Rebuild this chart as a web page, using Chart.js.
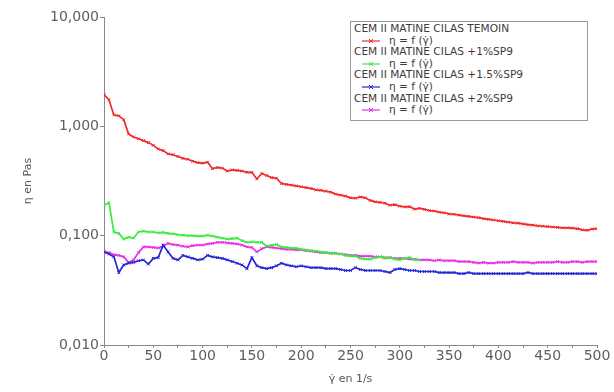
<!DOCTYPE html>
<html>
<head>
<meta charset="utf-8">
<script src="https://cdn.jsdelivr.net/npm/chart.js@4/dist/chart.umd.min.js"></script>
<style>
  body { margin: 0; background: #fff; }
  #wrap { position: relative; width: 614px; height: 392px; }
  #legend {
    position: absolute; left: 350px; top: 21px; width: 238px;
    border: 1px solid #9a9a9a; background: #fff; padding: 1px 0 4px 3px;
    font: 10.6px "DejaVu Sans", sans-serif; color: #3c3c3c; box-sizing: border-box;
  }
  #legend .name { height: 11.6px; line-height: 11.6px; white-space: nowrap; }
  #legend .sample { height: 11.6px; line-height: 11.6px; padding-left: 8px; white-space: nowrap; }
  #legend svg { vertical-align: middle; margin-right: 9px; }
</style>
</head>
<body>
<div id="wrap">
  <canvas id="viscoChart" width="614" height="392"></canvas>
  <div id="legend"></div>
</div>
<script>
// shear rate (1/s)
const shear = [
  0, 5, 10, 15, 20, 25, 30, 35, 40, 45, 50, 55, 60, 65, 70, 75, 80, 85, 90, 95,
  100, 105, 110, 115, 120, 125, 130, 135, 140, 145, 150, 155, 160, 165, 170, 175, 180, 185, 190, 195,
  200, 205, 210, 215, 220, 225, 230, 235, 240, 245, 250, 255, 260, 265, 270, 275, 280, 285, 290, 295,
  300, 305, 310, 315, 320, 325, 330, 335, 340, 345, 350, 355, 360, 365, 370, 375, 380, 385, 390, 395,
  400, 405, 410, 415, 420, 425, 430, 435, 440, 445, 450, 455, 460, 465, 470, 475, 480, 485, 490, 495,
  500
];

// viscosity (Pa.s) per mix
const etaTemoin = [
  1.95, 1.75, 1.27, 1.25, 1.15, 0.85, 0.80, 0.77, 0.74, 0.71, 0.67, 0.62, 0.60, 0.56, 0.55, 0.53, 0.51, 0.50, 0.48, 0.465,
  0.46, 0.47, 0.41, 0.42, 0.415, 0.39, 0.40, 0.395, 0.39, 0.38, 0.38, 0.33, 0.37, 0.355, 0.34, 0.335, 0.30, 0.295, 0.29, 0.285,
  0.28, 0.275, 0.27, 0.262, 0.26, 0.255, 0.25, 0.24, 0.235, 0.23, 0.222, 0.22, 0.226, 0.222, 0.21, 0.204, 0.202, 0.198, 0.19, 0.192,
  0.186, 0.183, 0.184, 0.175, 0.178, 0.174, 0.17, 0.168, 0.164, 0.162, 0.158, 0.157, 0.154, 0.152, 0.15, 0.148, 0.146, 0.143, 0.141, 0.139,
  0.137, 0.135, 0.133, 0.131, 0.13, 0.128, 0.126, 0.125, 0.123, 0.122, 0.121, 0.12, 0.119, 0.118, 0.118, 0.117, 0.116, 0.113, 0.112, 0.115,
  0.116
];
const eta1SP9 = [
  0.19, 0.20, 0.108, 0.105, 0.093, 0.097, 0.095, 0.108, 0.11, 0.108, 0.108, 0.106, 0.107, 0.105, 0.104, 0.102, 0.101, 0.10, 0.10, 0.099,
  0.099, 0.101, 0.099, 0.097, 0.095, 0.093, 0.094, 0.095, 0.09, 0.087, 0.088, 0.087, 0.087, 0.08, 0.082, 0.083, 0.079, 0.078, 0.077, 0.077,
  0.075, 0.074, 0.073, 0.072, 0.071, 0.07, 0.069, 0.069, 0.068, 0.066, 0.065, 0.065, 0.062, 0.061, 0.061, 0.063, 0.064, 0.062, 0.063, 0.061,
  0.06, 0.062, 0.063, 0.06, 0.06
];
const eta15SP9 = [
  0.071, 0.068, 0.064, 0.046, 0.054, 0.056, 0.057, 0.059, 0.060, 0.055, 0.062, 0.063, 0.082, 0.071, 0.062, 0.060, 0.066, 0.064, 0.062, 0.060,
  0.061, 0.066, 0.064, 0.063, 0.062, 0.060, 0.058, 0.056, 0.054, 0.05, 0.063, 0.053, 0.051, 0.050, 0.051, 0.053, 0.056, 0.054, 0.053, 0.052,
  0.053, 0.052, 0.051, 0.051, 0.051, 0.050, 0.050, 0.050, 0.049, 0.048, 0.048, 0.051, 0.049, 0.048, 0.048, 0.048, 0.048, 0.047, 0.046, 0.049,
  0.050, 0.049, 0.048, 0.048, 0.047, 0.047, 0.047, 0.047, 0.046, 0.046, 0.046, 0.046, 0.045, 0.045, 0.046, 0.045, 0.045, 0.045, 0.045, 0.045,
  0.045, 0.045, 0.045, 0.045, 0.045, 0.045, 0.046, 0.045, 0.045, 0.045, 0.045, 0.045, 0.045, 0.045, 0.045, 0.045, 0.045, 0.045, 0.045, 0.045,
  0.045
];
const eta2SP9 = [
  0.071, 0.070, 0.067, 0.066, 0.064, 0.057, 0.060, 0.070, 0.079, 0.079, 0.078, 0.077, 0.080, 0.085, 0.083, 0.082, 0.080, 0.079, 0.081, 0.082,
  0.082, 0.084, 0.085, 0.087, 0.087, 0.086, 0.085, 0.084, 0.082, 0.079, 0.078, 0.071, 0.076, 0.079, 0.078, 0.077, 0.076, 0.075, 0.075, 0.074,
  0.074, 0.073, 0.072, 0.071, 0.070, 0.070, 0.069, 0.069, 0.068, 0.067, 0.066, 0.066, 0.065, 0.065, 0.065, 0.064, 0.064, 0.063, 0.063, 0.062,
  0.062, 0.062, 0.061, 0.061, 0.060, 0.060, 0.060, 0.059, 0.060, 0.059, 0.059, 0.059, 0.058, 0.058, 0.058, 0.057, 0.056, 0.057, 0.056, 0.056,
  0.057, 0.057, 0.057, 0.058, 0.057, 0.057, 0.057, 0.056, 0.057, 0.057, 0.057, 0.057, 0.058, 0.057, 0.057, 0.058, 0.058, 0.057, 0.058, 0.058,
  0.058
];

const seriesNames = [
  'CEM II MATINE CILAS TEMOIN',
  'CEM II MATINE CILAS +1%SP9',
  'CEM II MATINE CILAS +1.5%SP9',
  'CEM II MATINE CILAS +2%SP9'
];
const seriesColors = ['#f02828', '#3ee83e', '#2626d8', '#e830e8'];
const sampleLabel = 'η = f (γ̇)';

const yTickValues = [0.01, 0.1, 1, 10];
const yTickLabels = ['0,010', '0,100', '1,000', '10,000'];

function toPoints(values) {
  return values.map((v, i) => ({ x: shear[i], y: v }));
}

const allSeries = [etaTemoin, eta1SP9, eta15SP9, eta2SP9];

const datasets = allSeries.map((vals, i) => ({
  label: seriesNames[i],
  data: toPoints(vals),
  borderColor: seriesColors[i],
  backgroundColor: seriesColors[i],
  borderWidth: 1.7,
  showLine: true,
  pointStyle: 'crossRot',
  pointRadius: 2,
  pointBorderWidth: 1,
  tension: 0
}));

const axisColor = '#8a8a8a';
const tickFont = { family: 'DejaVu Sans', size: 14 };

new Chart(document.getElementById('viscoChart'), {
  type: 'scatter',
  data: { datasets },
  options: {
    responsive: false,
    animation: false,
    layout: { padding: { top: 17, right: 17, left: 0, bottom: 0 } },
    plugins: { legend: { display: false }, tooltip: { enabled: false } },
    scales: {
      x: {
        type: 'linear',
        min: 0,
        max: 500,
        border: { color: axisColor, width: 1 },
        grid: { display: true, drawOnChartArea: false, tickLength: 3, color: axisColor },
        ticks: {
          stepSize: 25,
          color: '#5e5e5e',
          font: tickFont,
          padding: 0,
          maxRotation: 0,
          autoSkip: false,
          callback: v => (v % 50 === 0 ? v : '')
        },
        title: {
          display: true,
          text: 'γ̇ en 1/s',
          color: '#555',
          font: { family: 'DejaVu Sans', size: 11 },
          padding: { top: 0, bottom: 6 }
        },
        afterFit: s => { s.height = 47; }
      },
      y: {
        type: 'logarithmic',
        min: 0.01,
        max: 10,
        border: { color: axisColor, width: 1 },
        grid: { display: true, drawOnChartArea: false, tickLength: 4, color: axisColor },
        afterBuildTicks: s => { s.ticks = yTickValues.map(v => ({ value: v })); },
        ticks: {
          color: '#5e5e5e',
          font: tickFont,
          padding: 1,
          callback: v => {
            const i = yTickValues.findIndex(t => Math.abs(t - v) < v * 1e-6);
            return i >= 0 ? yTickLabels[i] : '';
          }
        },
        title: {
          display: true,
          text: 'η en Pas',
          color: '#555',
          font: { family: 'DejaVu Sans', size: 11 },
          padding: { top: 22, bottom: 0 }
        },
        afterFit: s => { s.width = 104; }
      }
    }
  }
});

// legend box in the upper right corner
const legend = document.getElementById('legend');
seriesNames.forEach((name, i) => {
  const c = seriesColors[i];
  const row = document.createElement('div');
  row.className = 'name';
  row.textContent = name;
  legend.appendChild(row);
  const sample = document.createElement('div');
  sample.className = 'sample';
  sample.innerHTML =
    `<svg width="18" height="8"><line x1="0" y1="4" x2="18" y2="4" stroke="${c}" stroke-width="1.2"/>` +
    `<path d="M7 2L11 6M11 2L7 6" stroke="${c}" stroke-width="1"/></svg>` +
    `<span>${sampleLabel}</span>`;
  legend.appendChild(sample);
});
</script>
</body>
</html>
